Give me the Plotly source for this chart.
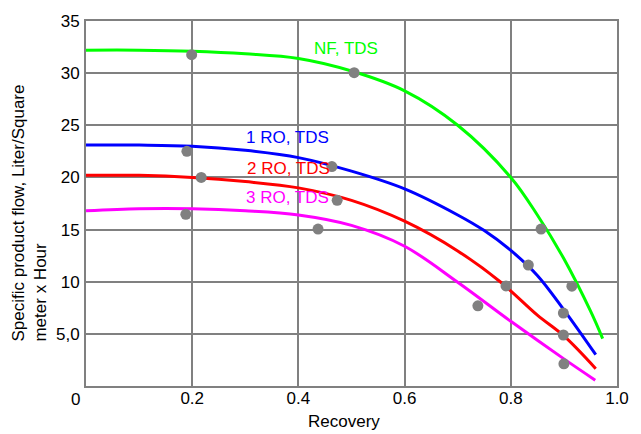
import plotly.graph_objects as go

# Curves (model) data
nf_x = [0, 0.1, 0.2, 0.3, 0.4, 0.5, 0.6, 0.7, 0.8, 0.85, 0.9, 0.95, 0.973]
nf_y = [32.2, 32.2, 32.1, 31.85, 31.4, 30.2, 28.3, 25.0, 20.0, 16.4, 12.2, 7.2, 4.55]

ro1_x = [0, 0.1, 0.2, 0.3, 0.4, 0.5, 0.6, 0.7, 0.75, 0.8, 0.85, 0.9, 0.96]
ro1_y = [23.1, 23.1, 23.0, 22.6, 21.9, 20.6, 18.9, 16.4, 14.9, 13.0, 10.6, 7.3, 3.0]

ro2_x = [0, 0.1, 0.2, 0.3, 0.4, 0.5, 0.6, 0.7, 0.78, 0.85, 0.9, 0.96]
ro2_y = [20.2, 20.2, 20.0, 19.6, 19.0, 17.8, 15.8, 12.95, 10.0, 6.8, 4.8, 1.66]

ro3_x = [0, 0.1, 0.2, 0.3, 0.4, 0.5, 0.6, 0.7, 0.8, 0.9, 0.959]
ro3_y = [16.8, 17.0, 17.0, 16.8, 16.4, 15.4, 13.4, 9.95, 6.2, 2.6, 0.56]

# Measured points
pts_x = [0.199, 0.505, 0.190, 0.463, 0.217, 0.473, 0.188, 0.437,
         0.857, 0.833, 0.915, 0.791, 0.738, 0.899, 0.899, 0.900]
pts_y = [31.77, 30.04, 22.5, 21.04, 20.0, 17.8, 16.46, 15.05,
         15.05, 11.6, 9.57, 9.6, 7.69, 6.99, 4.89, 2.13]

# Axis ticks
x_ticks = [0.2, 0.4, 0.6, 0.8, 1.0]
x_tick_text = ["0.2", "0.4", "0.6", "0.8", "1.0"]
y_ticks = [5, 10, 15, 20, 25, 30, 35]
y_tick_text = ["5,0", "10", "15", "20", "25", "30", "35"]

series = [
    ("NF, TDS", nf_x, nf_y, "#00FF00", 0.489, 32.4),
    ("1 RO, TDS", ro1_x, ro1_y, "#0000FF", 0.380, 23.8),
    ("2 RO, TDS", ro2_x, ro2_y, "#FF0000", 0.381, 20.9),
    ("3 RO, TDS", ro3_x, ro3_y, "#FF00FF", 0.380, 18.05),
]

FONT = "Liberation Sans, Arial, sans-serif"
GRID = "#808080"

fig = go.Figure()
annotations = []
for name, xs, ys, color, lx, ly in series:
    fig.add_trace(go.Scatter(x=xs, y=ys, mode="lines", name=name,
                             line=dict(color=color, width=3, shape="spline"),
                             showlegend=False, hoverinfo="skip"))
    annotations.append(dict(x=lx, y=ly, xref="x", yref="y", text=name,
                            showarrow=False, font=dict(family=FONT, size=17, color=color),
                            xanchor="center", yanchor="middle"))

fig.add_trace(go.Scatter(x=pts_x, y=pts_y, mode="markers", showlegend=False,
                         marker=dict(color="#808080", size=11, line=dict(width=0))))

annotations.append(dict(x=-0.0207, y=-0.0376, xref="paper", yref="paper", text="0",
                        showarrow=False, font=dict(family=FONT, size=17, color="#000"),
                        xanchor="center", yanchor="middle"))
annotations.append(dict(x=0.486, y=-0.097, xref="paper", yref="paper", text="Recovery",
                        showarrow=False, font=dict(family=FONT, size=17, color="#000"),
                        xanchor="center", yanchor="middle"))
annotations.append(dict(x=-0.107, y=0.473, xref="paper", yref="paper",
                        text="Specific product flow, Liter/Square<br>meter x Hour",
                        textangle=-90, align="left", showarrow=False,
                        font=dict(family=FONT, size=17, color="#000"),
                        xanchor="center", yanchor="middle"))

fig.update_layout(
    width=641, height=434,
    margin=dict(l=86, r=24, t=14, b=48),
    paper_bgcolor="white", plot_bgcolor="white",
    font=dict(family=FONT, size=17, color="#000"),
    annotations=annotations,
)
fig.update_xaxes(range=[0, 1], tickvals=x_ticks, ticktext=x_tick_text,
                 showgrid=True, gridcolor=GRID, gridwidth=2,
                 showline=True, linecolor=GRID, linewidth=2, mirror=True,
                 zeroline=False, ticks="", ticklabelstandoff=-4,
                 tickfont=dict(family=FONT, size=17, color="#000"))
fig.update_yaxes(range=[0, 35], tickvals=y_ticks, ticktext=y_tick_text,
                 showgrid=True, gridcolor=GRID, gridwidth=2,
                 showline=True, linecolor=GRID, linewidth=2, mirror=True,
                 zeroline=False, ticks="", ticklabelstandoff=1,
                 tickfont=dict(family=FONT, size=17, color="#000"))

fig.write_html("out.html")
